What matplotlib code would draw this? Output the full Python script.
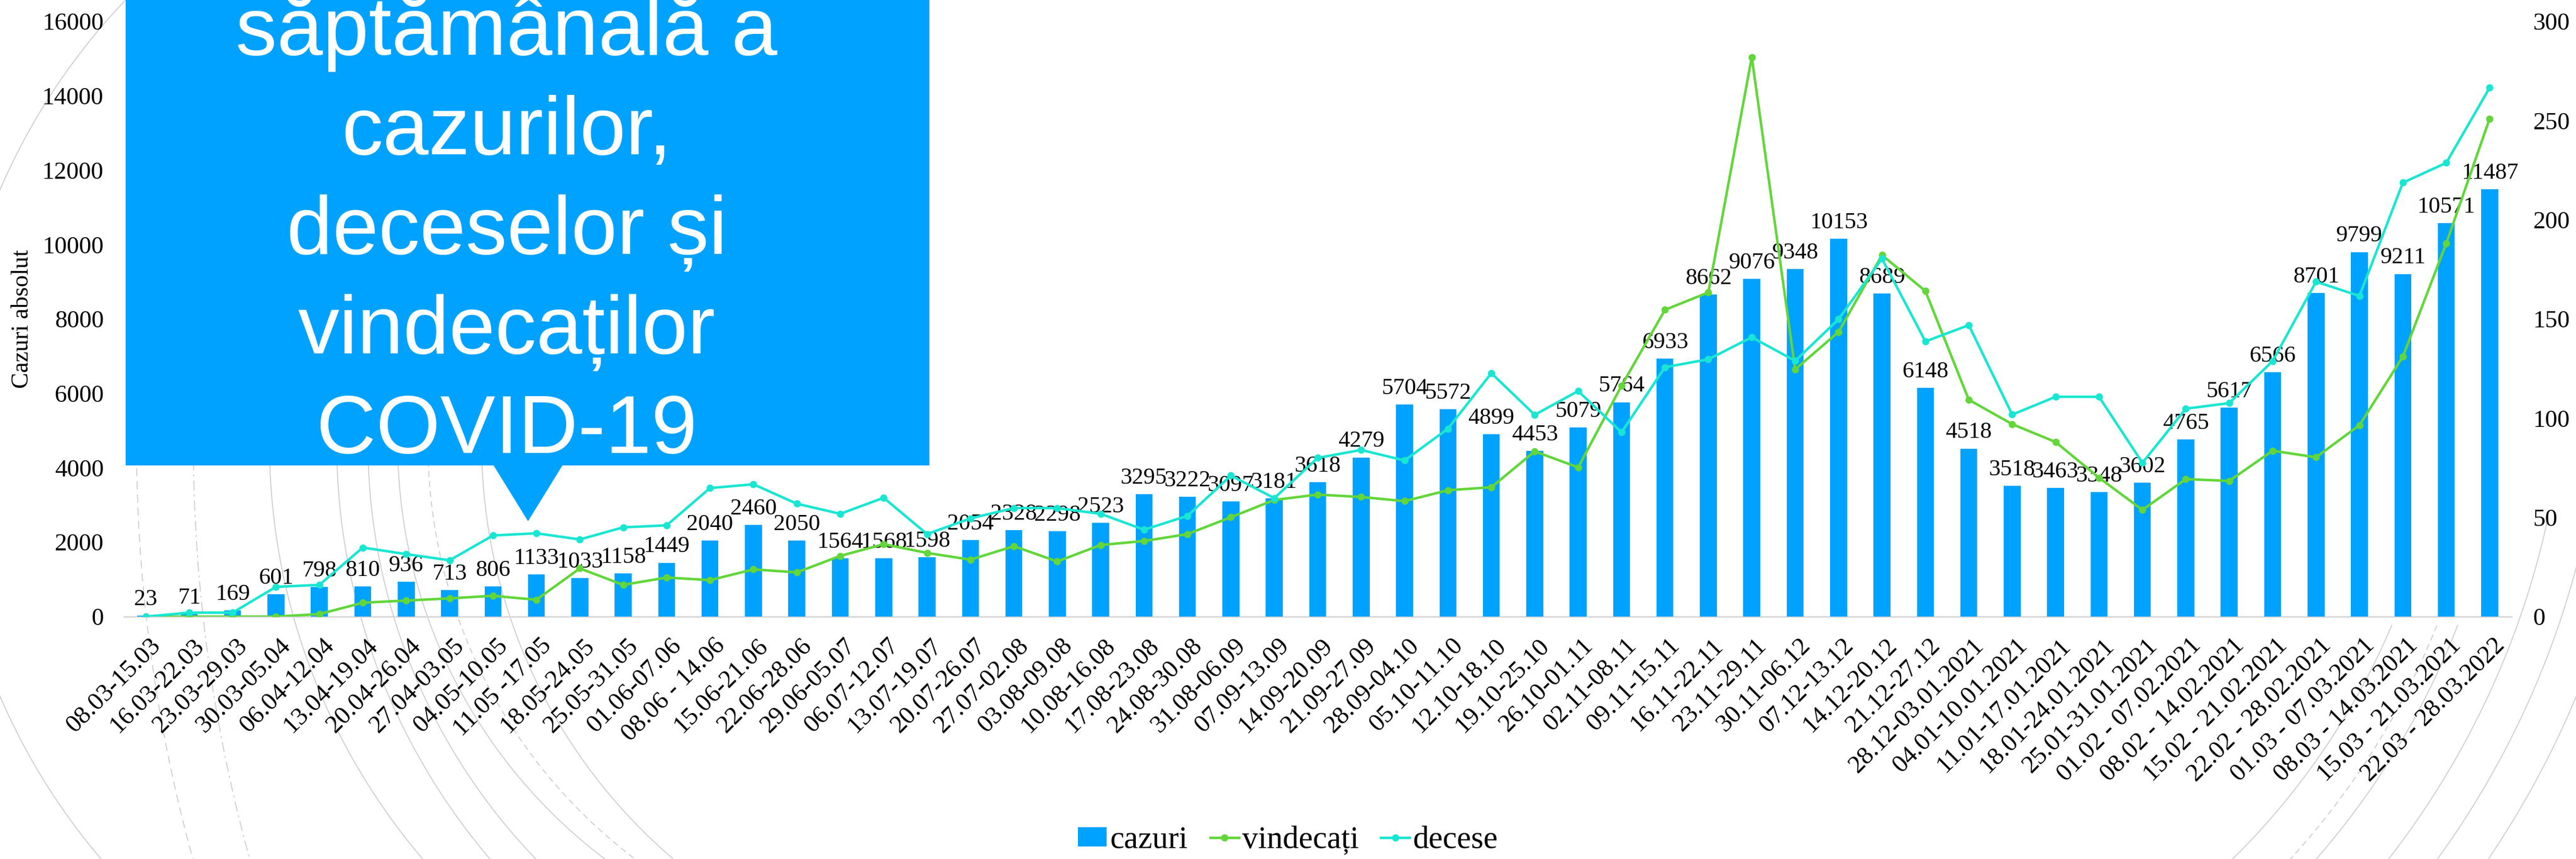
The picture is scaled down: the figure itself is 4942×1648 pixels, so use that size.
import numpy as np
import matplotlib
matplotlib.use('Agg')
import matplotlib.pyplot as plt
from matplotlib.patches import Polygon
from matplotlib.lines import Line2D
from matplotlib.transforms import ScaledTranslation

W, H = 4942, 1648
DPI = 100

categories = ["08.03-15.03", "16.03-22.03", "23.03-29.03", "30.03-05.04", "06.04-12.04",
              "13.04-19.04", "20.04-26.04", "27.04-03.05", "04.05-10.05", "11.05 -17.05",
              "18.05-24.05", "25.05-31.05", "01.06-07.06", "08.06 - 14.06", "15.06-21.06",
              "22.06-28.06", "29.06-05.07", "06.07-12.07", "13.07-19.07", "20.07-26.07",
              "27.07-02.08", "03.08-09.08", "10.08-16.08", "17.08-23.08", "24.08-30.08",
              "31.08-06.09", "07.09-13.09", "14.09-20.09", "21.09-27.09", "28.09-04.10",
              "05.10-11.10", "12.10-18.10", "19.10-25.10", "26.10-01.11", "02.11-08.11",
              "09.11-15.11", "16.11-22.11", "23.11-29.11", "30.11-06.12", "07.12-13.12",
              "14.12-20.12", "21.12-27.12", "28.12-03.01.2021", "04.01-10.01.2021",
              "11.01-17.01.2021", "18.01-24.01.2021", "25.01-31.01.2021", "01.02 - 07.02.2021",
              "08.02 - 14.02.2021", "15.02 - 21.02.2021", "22.02 - 28.02.2021",
              "01.03 - 07.03.2021", "08.03 - 14.03.2021", "15.03 - 21.03.2021",
              "22.03 - 28.03.2022"]

cazuri = [23, 71, 169, 601, 798, 810, 936, 713, 806, 1133,
          1033, 1158, 1449, 2040, 2460, 2050, 1564, 1568, 1598, 2054,
          2328, 2298, 2523, 3295, 3222, 3097, 3181, 3618, 4279, 5704,
          5572, 4899, 4453, 5079, 5764, 6933, 8662, 9076, 9348, 10153,
          8689, 6148, 4518, 3518, 3463, 3348, 3602, 4765, 5617, 6566,
          8701, 9799, 9211, 10571, 11487]

vindecati = [0, 0, 0, 0, 1.3, 7, 8.1, 9.2, 10.5, 8.5,
             24.3, 16, 19.7, 18.4, 23.8, 22.3, 30.6, 36.5, 32.1, 28.7,
             35.5, 27.8, 36.1, 38.1, 41.6, 50.1, 58.8, 61.5, 60.3, 58.2,
             63.7, 65.2, 83.3, 75.2, 116.4, 154.6, 163.4, 282, 124.6, 143.5,
             182.2, 164.1, 109.3, 97, 88, 70, 53.8, 69.3, 68.4, 83.6,
             80.3, 96.5, 131, 188.1, 251]

decese = [0, 2, 2, 15, 16, 34.8, 31.5, 28.4, 40.9, 42,
          38.9, 45, 46, 64.8, 66.7, 56.9, 51.8, 59.9, 41.6, 49.5,
          54.7, 54.7, 51.8, 43.8, 50.8, 71.1, 59.7, 80, 84, 78.7,
          94.7, 122.7, 101.7, 113.7, 92.9, 125.7, 129.7, 140.8, 128.9, 149.9,
          180.4, 138.7, 146.9, 101.8, 110.8, 110.8, 77.5, 104.8, 107.6, 128.8,
          168.8, 161.6, 218.7, 228.7, 266.6]

left_ticks = list(range(0, 16001, 2000))
right_ticks = list(range(0, 301, 50))
series_names = ["cazuri", "vindecați", "decese"]
y_label = "Cazuri absolut"
title_lines = ["săptămânală a", "cazurilor,", "deceselor și", "vindecaților", "COVID-19"]

BLUE = '#00A2FF'
GREEN = '#62D63A'
CYAN = '#19E6D2'
SERIF = ['Liberation Serif', 'DejaVu Serif']
SANS = ['Liberation Sans', 'DejaVu Sans']


def fx(px):
    return px / W


def fy(py):
    return 1 - py / H


fig = plt.figure(figsize=(W / DPI, H / DPI), dpi=DPI)
fig.patch.set_facecolor('white')

# decorative background arcs (figure coords)
def arc(cx, cy, R, y0, y1, side, ls):
    ys = np.linspace(y0, y1, 300)
    dy = ys - cy
    ok = np.abs(dy) < R
    ys = ys[ok]
    dx = np.sqrt(R ** 2 - (ys - cy) ** 2)
    xs = cx - dx if side == 'left' else cx + dx
    fig.add_artist(Line2D(fx(xs), fy(ys), transform=fig.transFigure, color='#CFCFCF',
                          lw=1.4, ls=ls, zorder=-1))

left_arcs = [(262, 3000, (0, (8, 5))), (371, 3000, (0, (10, 4, 2, 4))), (517, 1230, '-'),
             (646, 1230, '-'), (706, 1150, '-'), (763, 1000, '-'), (821, 1000, (0, (6, 4))),
             (924, 1050, '-'), (-100, 1230, '-')]
for x0, R, ls in left_arcs:
    arc(x0 + R, 850, R, 0, 1648, 'left', ls)

right_arcs = [(1401, 1200, '-'), (1481, 1200, (0, (6, 4))), (1518, 1200, '-'),
              (1625, 1000, '-'), (1700, 900, '-'), (1780, 900, '-')]
for R, ytop, ls in right_arcs:
    arc(3300, 650, R, ytop, 1648, 'right', ls)

ax = fig.add_axes([fx(238), fy(1183), fx(4818) - fx(238), fy(41) - fy(1183)])
ax.patch.set_visible(False)
x = np.arange(len(categories))
bars = ax.bar(x, cazuri, width=0.39, color=BLUE, zorder=2, label=series_names[0])
ax.set_xlim(-0.5, len(categories) - 0.5)
ax.set_ylim(0, 16000)
ax.set_yticks(left_ticks)
ax.set_yticklabels([str(t) for t in left_ticks], fontsize=34, family=SERIF)
for s in ['top', 'left', 'right']:
    ax.spines[s].set_visible(False)
ax.spines['bottom'].set_color('#D9D9D9')
ax.spines['bottom'].set_linewidth(2.2)
ax.spines['bottom'].set_zorder(1)
ax.tick_params(axis='both', length=0)
ax.tick_params(axis='y', pad=28)
ax.tick_params(axis='x', pad=24)
ax.set_xticks(x)
ax.set_xticklabels(categories, rotation=45, ha='right', va='top', rotation_mode='anchor',
                   fontsize=35, family=SERIF)
offset = ScaledTranslation(6 / DPI, 0, fig.dpi_scale_trans)
for lab in ax.get_xticklabels():
    lab.set_transform(lab.get_transform() + offset)

for xi, v in zip(x, cazuri):
    ax.annotate(str(v), (xi, v), xytext=(0, 8), textcoords='offset points',
                ha='center', va='bottom', fontsize=32, family=SERIF, zorder=3)

ax2 = ax.twinx()
ax2.set_ylim(0, 300)
ax2.set_yticks(right_ticks)
ax2.set_yticklabels([str(t) for t in right_ticks], fontsize=34, family=SERIF)
for s in ax2.spines.values():
    s.set_visible(False)
ax2.tick_params(axis='y', length=0, pad=30)
l1, = ax2.plot(x, vindecati, color=GREEN, lw=3.5, marker='o', ms=9, label=series_names[1])
l2, = ax2.plot(x, decese, color=CYAN, lw=3.5, marker='o', ms=9, label=series_names[2])

fig.text(fx(43), fy(612), y_label, rotation=90, ha='center', va='center',
         fontsize=33, family=SERIF)

fig.legend([bars, l1, l2], series_names, loc='center', bbox_to_anchor=(0.5, fy(1612)),
           ncol=3, frameon=False, prop={'family': SERIF, 'size': 44},
           handlelength=0.9, handleheight=0.55, handletextpad=0.1, columnspacing=0.7)

# callout box
box = Polygon([[fx(241), fy(-5)], [fx(1783), fy(-5)], [fx(1783), fy(893)], [fx(1079), fy(893)],
               [fx(1013), fy(1000)], [fx(947), fy(893)], [fx(241), fy(893)]],
              closed=True, transform=fig.transFigure, facecolor=BLUE, edgecolor='none', zorder=4)
fig.add_artist(box)
for i, line in enumerate(title_lines):
    fig.text(fx(972), fy(105 + 191 * i), line, ha='center', va='baseline', color='white',
             fontsize=114, family=SANS, zorder=5)

fig.savefig('out.png', dpi=DPI, facecolor='white')
